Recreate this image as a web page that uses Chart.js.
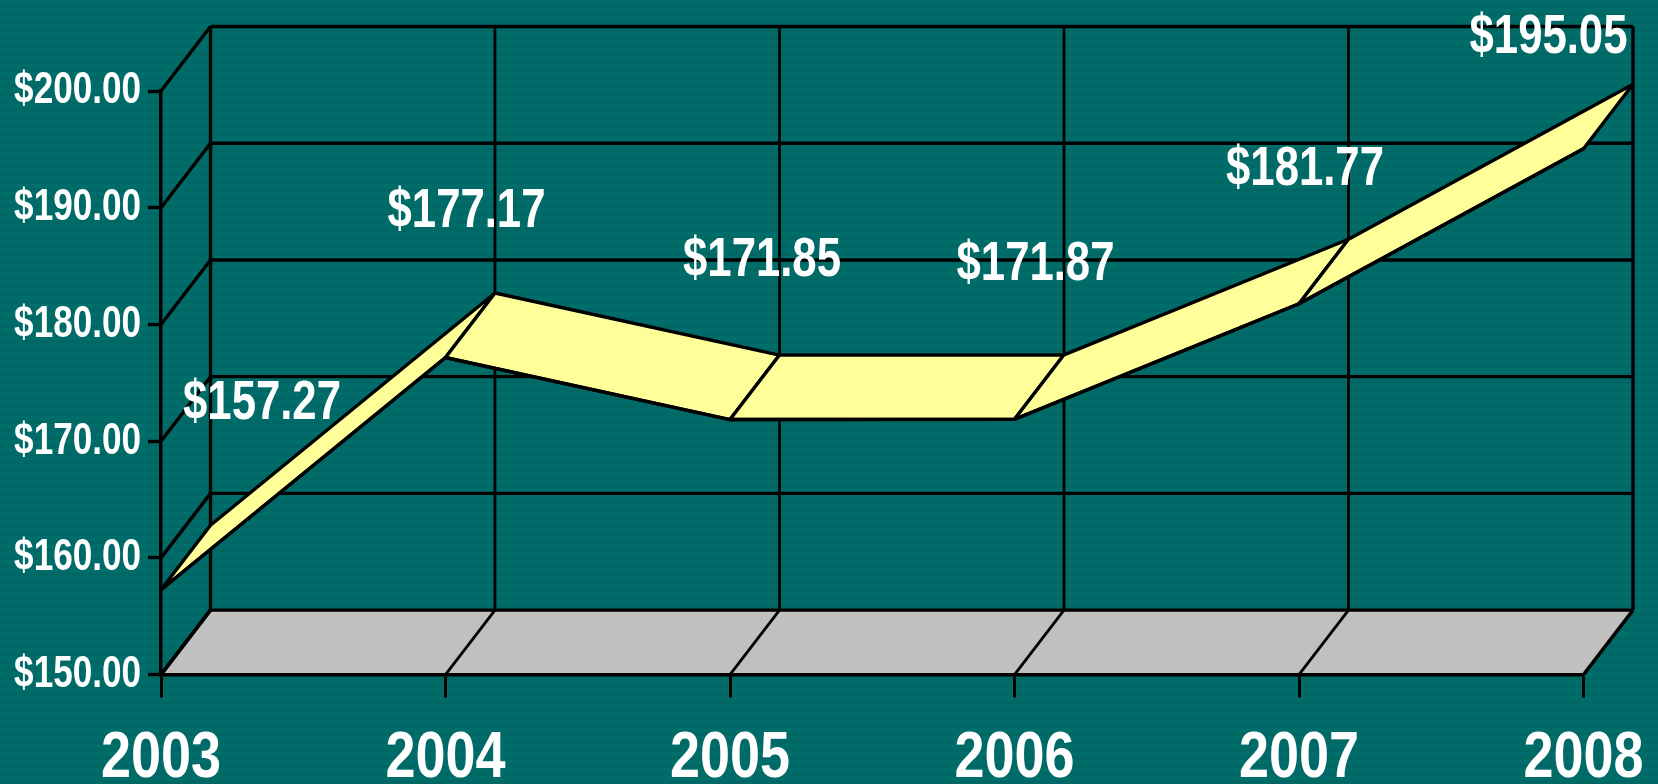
<!DOCTYPE html>
<html><head><meta charset="utf-8">
<style>
html,body{margin:0;padding:0;width:1658px;height:784px;overflow:hidden;background:#006a67;}
body{background:repeating-linear-gradient(180deg,#006d6a 0,#006d6a 4px,#006966 4px,#006966 8px);}
#w{position:absolute;left:0;top:0;width:1658px;height:784px;}
</style>
<script src="https://cdn.jsdelivr.net/npm/chart.js@4"></script>
</head><body><div id="w"><canvas id="c" width="1658" height="784"></canvas></div>
<script>
const categories = ['2003','2004','2005','2006','2007','2008'];
const prices = [157.27,177.17,171.85,171.87,181.77,195.05];
const yTicks = [150,160,170,180,190,200];

const DX = 49.5, DY = -64.5;
const LABEL_OFFSET = [[101,-186],[21,-146],[32,-159],[21,-155],[6,-134],[-35,-111]];
const NARROW = {x:0.83,y:0.78,label:0.78};

// Draw text condensed horizontally around its anchor (the fonts installed have no narrow bold cut).
function condensed(ctx, k, fn){
  const orig = ctx.fillText;
  ctx.fillText = function(t,x,y){
    ctx.save();ctx.translate(x,y);ctx.scale(k,1);orig.call(ctx,t,0,0);ctx.restore();
  };
  try{fn();}finally{delete ctx.fillText;}
}

const depth = {
  id:'depth',
  afterLayout(ch){
    [ch.scales.x,ch.scales.y].forEach(s=>{
      if(s._wrapped) return;
      s._wrapped=true;
      const d=s.drawLabels;
      s.drawLabels=function(a){condensed(ch.ctx,NARROW[s.axis],()=>d.call(s,a));};
    });
  },
  beforeDraw(ch){
    const {ctx,scales:{x,y}} = ch;
    const x0 = x.getPixelForValue(0), x1 = x.getPixelForValue(categories.length-1);
    const yb = y.getPixelForValue(yTicks[0]), yt = y.getPixelForValue(yTicks[yTicks.length-1]);
    ctx.save();
    ctx.strokeStyle='#000'; ctx.lineJoin='round';
    ctx.fillStyle='#c0c0c0';
    ctx.beginPath();ctx.moveTo(x0,yb);ctx.lineTo(x1,yb);ctx.lineTo(x1+DX,yb+DY);ctx.lineTo(x0+DX,yb+DY);ctx.closePath();ctx.fill();
    const ln=(a,b,c,d,w)=>{ctx.lineWidth=w;ctx.beginPath();ctx.moveTo(a,b);ctx.lineTo(c,d);ctx.stroke();};
    yTicks.forEach(v=>{
      const p=y.getPixelForValue(v);
      ln(x0,p,x0+DX,p+DY,3.4);
      ln(x0+DX,p+DY,x1+DX,p+DY,3.4);
    });
    categories.forEach((c,i)=>{
      const p=x.getPixelForValue(i);
      ln(p+DX,yb+DY,p+DX,yt+DY,(i==0||i==categories.length-1)?3.4:2.8);
      ln(p,yb,p+DX,yb+DY,(i==0||i==categories.length-1)?3.4:2.8);
    });
    ctx.restore();
  },
  beforeDatasetsDraw(ch){
    const {ctx,scales:{x,y}} = ch;
    ctx.save();
    ctx.strokeStyle='#000';ctx.fillStyle='#ffff99';ctx.lineWidth=3.4;ctx.lineJoin='round';
    for(let i=0;i<prices.length-1;i++){
      const a=x.getPixelForValue(i),b=x.getPixelForValue(i+1),
            p=y.getPixelForValue(prices[i]),q=y.getPixelForValue(prices[i+1]);
      ctx.beginPath();ctx.moveTo(a,p);ctx.lineTo(b,q);ctx.lineTo(b+DX,q+DY);ctx.lineTo(a+DX,p+DY);ctx.closePath();
      ctx.fill();ctx.stroke();
    }
    ctx.restore();
  },
  afterDatasetsDraw(ch){
    const {ctx,scales:{x,y}} = ch;
    ctx.save();
    ctx.fillStyle='#fff';ctx.textAlign='center';ctx.textBaseline='middle';
    ctx.font='bold 56px "Liberation Sans"';
    condensed(ctx,NARROW.label,()=>prices.forEach((v,i)=>{
      const o=LABEL_OFFSET[i];
      ctx.fillText('$'+v.toFixed(2),x.getPixelForValue(i)+o[0],y.getPixelForValue(v)+o[1]);
    }));
    ctx.restore();
  }
};

new Chart(document.getElementById('c'),{
  type:'line',
  data:{labels:categories,datasets:[{label:'Price',data:prices,borderColor:'#000',borderWidth:3.4,borderCapStyle:'round',pointRadius:0,tension:0,fill:false,clip:false}]},
  plugins:[depth],
  options:{
    responsive:false,animation:false,
    layout:{padding:{top:91,right:74.5,left:0,bottom:0}},
    plugins:{legend:{display:false},title:{display:false},tooltip:{enabled:false}},
    scales:{
      x:{type:'category',offset:false,
        afterFit(s){s.height=109.4;s.paddingLeft=0;s.paddingRight=0;},
        grid:{drawOnChartArea:false,drawTicks:true,tickLength:23,tickColor:'#000',tickWidth:3,color:'#000'},
        border:{display:true,color:'#000',width:3.4},
        ticks:{color:'#fff',font:{family:'"Liberation Sans"',weight:'bold',size:65},padding:22,maxRotation:0,autoSkip:false}
      },
      y:{type:'linear',min:150,max:200,
        afterFit(s){s.width=161;s.paddingTop=0;s.paddingBottom=0;},
        afterBuildTicks(s){s.ticks=yTicks.map(v=>({value:v}));},
        grid:{drawOnChartArea:false,drawTicks:true,tickLength:13,tickColor:'#000',tickWidth:3.4,color:'#000'},
        border:{display:true,color:'#000',width:3.4},
        ticks:{color:'#fff',font:{family:'"Liberation Sans"',weight:'bold',size:45},padding:7,callback:v=>'$'+Number(v).toFixed(2)}
      }
    }
  }
});
</script></body></html>
